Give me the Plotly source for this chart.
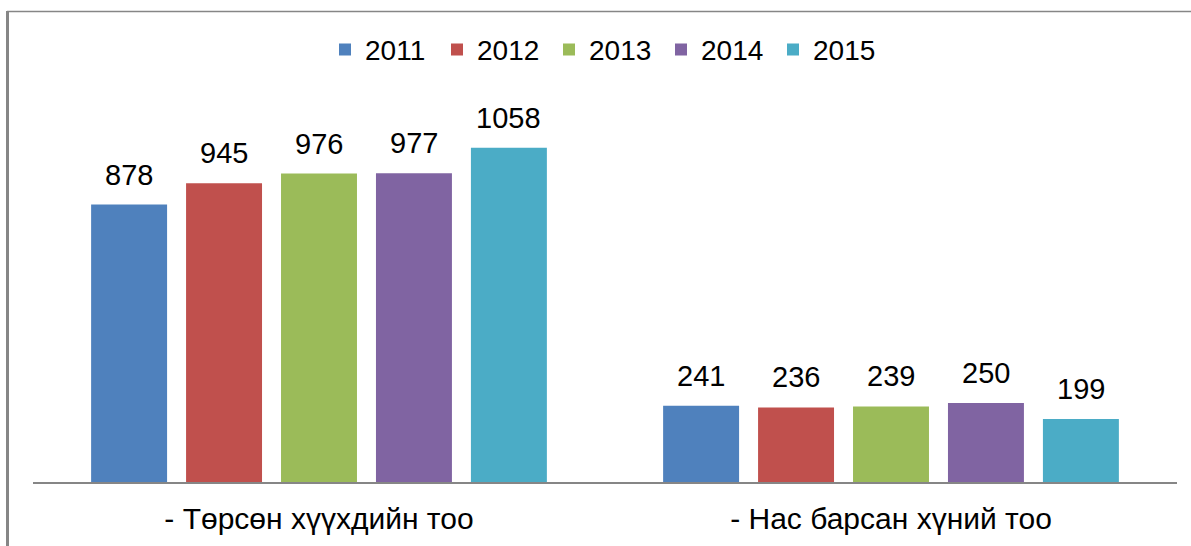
import plotly.graph_objects as go

categories = ["- Төрсөн хүүхдийн тоо", "- Нас барсан хүний тоо"]
years = ["2011", "2012", "2013", "2014", "2015"]
values = {
    "2011": [878, 241],
    "2012": [945, 236],
    "2013": [976, 239],
    "2014": [977, 250],
    "2015": [1058, 199],
}
colors = ["#4F81BD", "#C0504D", "#9BBB59", "#8064A2", "#4BACC6"]

FONT = "Liberation Sans, Arial, sans-serif"
BARGAP = 0.17
BARGROUPGAP = 0.2

fig = go.Figure()
for yr, col in zip(years, colors):
    fig.add_trace(go.Bar(
        name=yr, x=categories, y=values[yr],
        marker=dict(color=col, line=dict(width=0)),
    ))

# value labels above bars, placed through the axis scales
n = len(years)
slot = (1 - BARGAP) / n
annotations = []
for i, yr in enumerate(years):
    off = -(1 - BARGAP) / 2 + slot * (i + 0.5)
    for ci, v in enumerate(values[yr]):
        annotations.append(dict(
            x=ci + off, y=v, xref="x", yref="y", text=str(v),
            showarrow=False, yanchor="bottom", yshift=12,
            font=dict(family=FONT, size=29, color="#000000"),
        ))

fig.update_layout(
    width=1191, height=546,
    margin=dict(l=33, r=14, t=80, b=64),
    paper_bgcolor="white", plot_bgcolor="white",
    barmode="group", bargap=BARGAP, bargroupgap=BARGROUPGAP,
    font=dict(family=FONT, size=28, color="#000000"),
    showlegend=True,
    legend=dict(
        orientation="h", x=0.5, xanchor="center", y=1.075, yanchor="middle",
        font=dict(family=FONT, size=28, color="#000000"),
        entrywidth=67, itemwidth=30, bgcolor="rgba(0,0,0,0)",
    ),
    annotations=annotations,
    xaxis=dict(
        type="category", showline=True, linecolor="#868686", linewidth=1.5,
        ticks="", showgrid=False, zeroline=False, ticklabelstandoff=9,
        tickfont=dict(family=FONT, size=30, color="#000000"),
    ),
    yaxis=dict(
        range=[0, 1272], showgrid=False, zeroline=False, showline=False,
        showticklabels=False, ticks="",
    ),
    shapes=[
        dict(type="line", xref="paper", yref="paper",
             x0=(7 - 33) / 1144, x1=(1191 - 33) / 1144,
             y0=(482 - 11.5) / 402, y1=(482 - 11.5) / 402,
             line=dict(color="#868686", width=1.5)),
        dict(type="line", xref="paper", yref="paper",
             x0=(7.5 - 33) / 1144, x1=(7.5 - 33) / 1144,
             y0=(482 - 11) / 402, y1=(482 - 546) / 402,
             line=dict(color="#868686", width=3)),
    ],
)

fig.write_html("out.html")
